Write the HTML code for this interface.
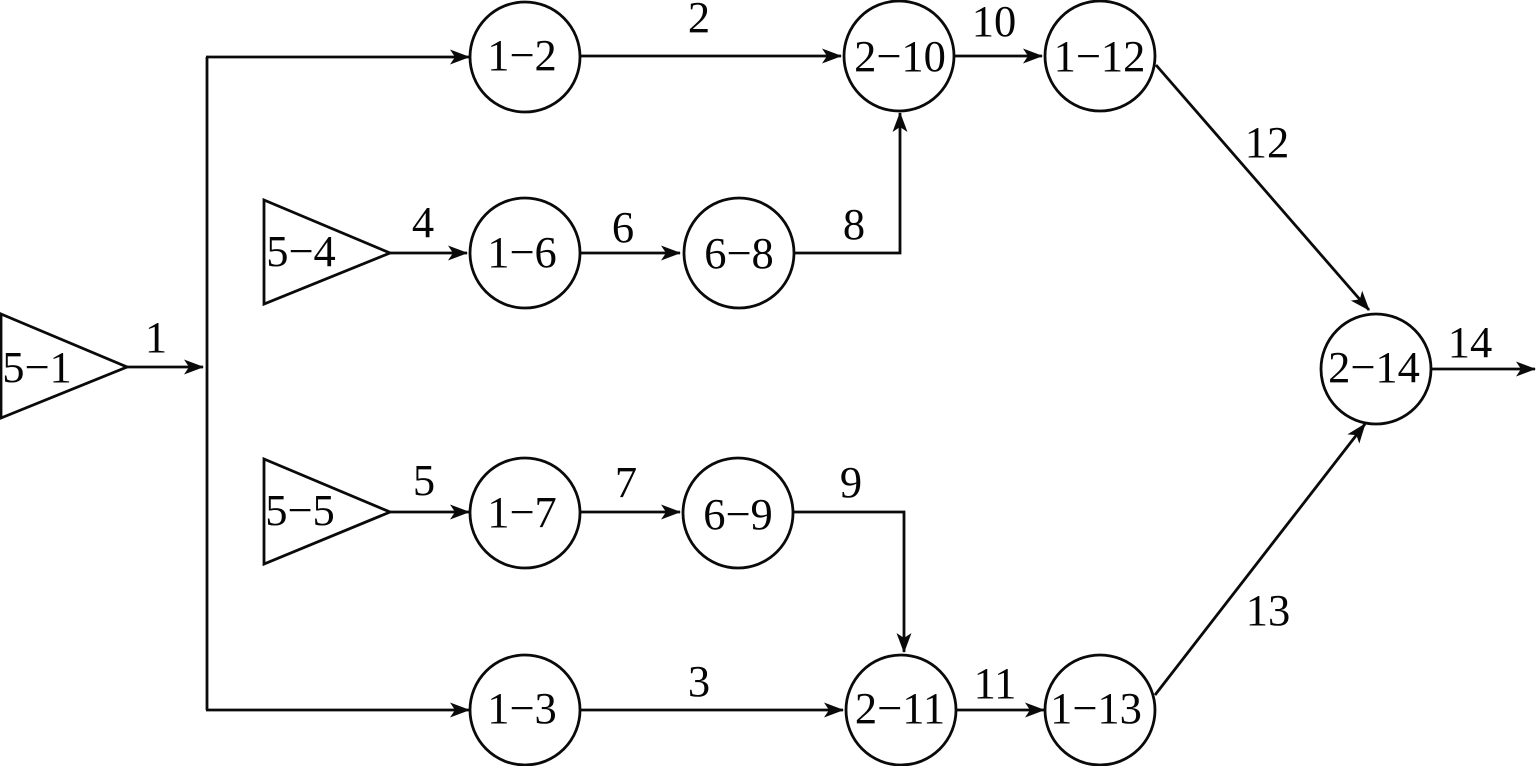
<!DOCTYPE html>
<html>
<head>
<meta charset="utf-8">
<style>
html,body{margin:0;padding:0;background:#fff;}
svg{display:block;}
text{font-family:"Liberation Serif",serif;font-size:44.5px;fill:#050505;text-anchor:middle;}
.s{fill:none;stroke:#0a0a0a;stroke-width:2.8;}
</style>
</head>
<body>
<svg width="1536" height="766" viewBox="0 0 1536 766" xmlns="http://www.w3.org/2000/svg">
<defs>
<marker id="a" markerUnits="userSpaceOnUse" markerWidth="24" markerHeight="20" viewBox="-21 -10 23 20" refX="0" refY="0" orient="auto">
<path d="M1,0 L-19,-7.5 L-14,0 L-19,7.5 Z" fill="#0a0a0a"/>
</marker>
</defs>

<polygon class="s" points="1,314 127,367 1,418"/>
<polygon class="s" points="264,200 390,253 264,304"/>
<polygon class="s" points="264,459 390,512 264,564"/>

<circle class="s" cx="525" cy="57" r="55"/>
<circle class="s" cx="899" cy="56" r="55"/>
<circle class="s" cx="1100" cy="56" r="55"/>
<circle class="s" cx="525" cy="253" r="55"/>
<circle class="s" cx="739" cy="253" r="55"/>
<circle class="s" cx="1376" cy="369" r="55"/>
<circle class="s" cx="525" cy="513" r="55"/>
<circle class="s" cx="738" cy="513" r="55"/>
<circle class="s" cx="525" cy="710" r="55"/>
<circle class="s" cx="901" cy="710" r="55"/>
<circle class="s" cx="1100" cy="710" r="55"/>

<path class="s" d="M127,367H203" marker-end="url(#a)"/>
<path class="s" d="M207,710V57"/>
<path class="s" d="M206,57H469" marker-end="url(#a)"/>
<path class="s" d="M206,710H469" marker-end="url(#a)"/>
<path class="s" d="M581,56H841" marker-end="url(#a)"/>
<path class="s" d="M955,56H1042" marker-end="url(#a)"/>
<path class="s" d="M390,253H467" marker-end="url(#a)"/>
<path class="s" d="M581,253H680" marker-end="url(#a)"/>
<path class="s" d="M794,253H900V113" marker-end="url(#a)"/>
<path class="s" d="M390,512H469" marker-end="url(#a)"/>
<path class="s" d="M581,512H680" marker-end="url(#a)"/>
<path class="s" d="M793,512H904V652" marker-end="url(#a)"/>
<path class="s" d="M581,710H843" marker-end="url(#a)"/>
<path class="s" d="M957,710H1044" marker-end="url(#a)"/>
<path class="s" d="M1156,65L1369,310" marker-end="url(#a)"/>
<path class="s" d="M1155,695L1365,424" marker-end="url(#a)"/>
<path class="s" d="M1432,369H1535" marker-end="url(#a)"/>

<text x="37" y="382">5−1</text>
<text x="301" y="266">5−4</text>
<text x="300" y="525">5−5</text>
<text x="522" y="70">1−2</text>
<text x="900" y="71">2−10</text>
<text x="1099.5" y="71">1−12</text>
<text x="522" y="267">1−6</text>
<text x="739" y="268">6−8</text>
<text x="1374" y="382">2−14</text>
<text x="522" y="527">1−7</text>
<text x="738" y="529">6−9</text>
<text x="522" y="723">1−3</text>
<text x="900" y="723">2−11</text>
<text x="1096" y="723">1−13</text>

<text x="156" y="352">1</text>
<text x="699" y="32">2</text>
<text x="699" y="696">3</text>
<text x="423" y="237">4</text>
<text x="424" y="495">5</text>
<text x="623" y="242">6</text>
<text x="626" y="497">7</text>
<text x="854" y="239">8</text>
<text x="851" y="497">9</text>
<text x="994" y="36">10</text>
<text x="995" y="698">11</text>
<text x="1267" y="157">12</text>
<text x="1268" y="625">13</text>
<text x="1470" y="357">14</text>
</svg>
</body>
</html>
